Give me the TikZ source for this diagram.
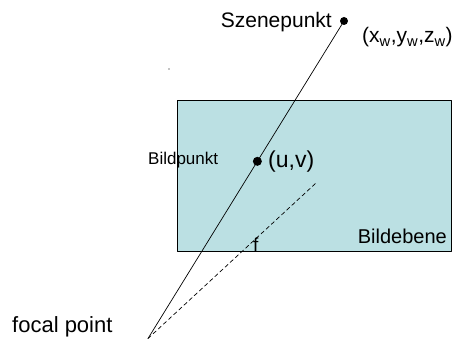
\documentclass[tikz,border=0pt]{standalone}
\usepackage{fontspec}
\setmainfont{Liberation Sans}
\usetikzlibrary{calc}
\definecolor{ebene}{RGB}{187,224,227}
\tikzset{
	lbl/.style={inner sep=0pt, anchor=base west},
	pkt/.style={circle, fill=black, inner sep=0pt, minimum size=#1}
}
\newcommand{\fs}[1]{\fontsize{#1}{#1}\selectfont}
\begin{document}
\begin{tikzpicture}[x=1pt, y=1pt, line join=round, line cap=round]
			\useasboundingbox (0,0) rectangle (459,339);
			\path (148,0.5) coordinate (F)
			(344,318) coordinate (S)
			(316,156) coordinate (D)
			(177,87) coordinate (BL)
			(451,238) coordinate (TR);
			
			\draw[fill=ebene, line width=1pt] (BL) rectangle (TR);
			\path ($(F)!0.558!(S)$) coordinate (P);
			
			\draw[line width=0.7pt] (F) -- (S);
			\draw[dashed, line width=0.7pt, dash pattern=on 4pt off 3pt] (F) -- (D);
			\node[pkt=8pt] (Sd) at (S) {};
			\node[pkt=9pt] (Pd) at (P) {};
			\fill (169,270) circle (0.6pt);
			
			\node[lbl, anchor=base east] (szene) at (332,311) {\fs{21}Szenepunkt};
			\node[lbl] (xw) at (362,296) {\fs{21}(x\textsubscript{w},y\textsubscript{w},z\textsubscript{w})};
			\node[lbl] (bild) at (148,174) {\fs{17}Bildpunkt};
			\node[lbl] (uv) at (268,171) {\fs{23}(u,v)};
			\node[lbl, anchor=base east] (ebene) at (447,95) {\fs{20}Bildebene};
			\node[lbl] (f) at (253,87) {\fs{19}f};
			\node[lbl] (focal) at (12,6) {\fs{22}focal point};
		\end{tikzpicture}
\end{document}
